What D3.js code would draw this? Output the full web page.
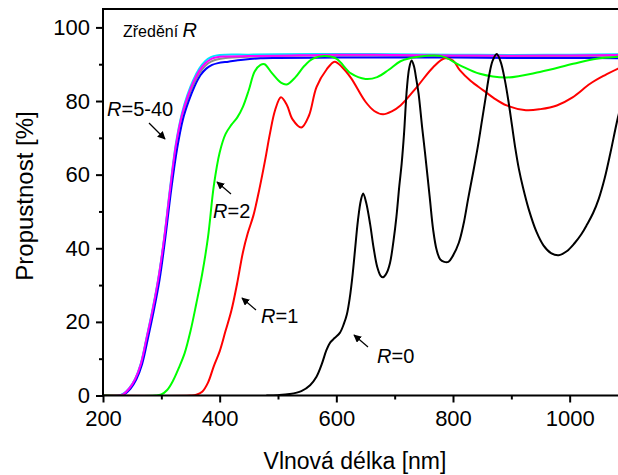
<!DOCTYPE html>
<html>
<head>
<meta charset="utf-8">
<script src="https://cdn.jsdelivr.net/npm/d3@7"></script>
<style>
  html, body { margin: 0; padding: 0; background: #fff; }
  svg { display: block; font-family: "Liberation Sans", Arial, sans-serif; }
</style>
</head>
<body>
<svg id="chart" width="618" height="475"></svg>
<script>
// ---- data (wavelength nm, transmittance %) ----
const r0 = [[480,0],[500,0.1],[520,0.4],[540,1.2],[555,2.8],[566,5.1],[575,8.5],[583,12.3],[590,14.5],[597,15.6],[606,17],[613,19.5],[618,22],[623,26.5],[628,33],[632,39.5],[637,47.5],[642,53],[646,54.9],[651,52.5],[658,46.5],[664,40],[670,35],[676,32.5],[680,32.1],[686,33.2],[692,36],[698,42],[703,48.5],[708,57],[712,63],[716,71],[721,83.5],[725,89],[729,91],[733,89.5],[737,86],[741,82],[747,73],[752,66],[760,54],[766,45],[772,39.5],[778,37],[785,36.3],[792,36.3],[800,38],[810,41.5],[818,46.5],[826,53.5],[835,61],[843,68],[850,75],[856,81],[862,87],[868,91],[875,92.8],[882,90.5],[889,85.6],[895,80],[901,73.5],[907,67],[913,61.5],[920,56.5],[930,50.5],[943,44.5],[955,40.8],[968,38.7],[981,38.1],[995,39.2],[1008,41.3],[1020,43.8],[1030,46.5],[1040,49.5],[1050,53.5],[1060,59],[1070,66],[1083,75.7],[1100,86]];
const r1 = [[200,0],[350,0],[360,0.2],[370,1],[380,3.5],[390,8],[400,12],[410,17.5],[420,23],[430,30.5],[440,39],[448,44],[458,49],[468,56],[478,64],[486,71],[495,77.5],[505,81],[515,79],[525,75],[540,72.8],[553,76],[566,83.8],[583,88.5],[597,90.7],[610,89.2],[625,86.3],[650,79.8],[665,77.3],[680,76.4],[695,77.2],[710,78.8],[738,83.8],[766,89.2],[786,91.6],[800,91],[812,88.3],[830,85.5],[852,82.9],[870,80.8],[892,78.8],[925,77.5],[950,77.8],[978,78.8],[1005,81],[1035,84.7],[1060,87],[1083,88.8],[1100,90]];
const r2 = [[200,0],[290,0],[300,0.3],[310,1.5],[320,4],[330,7.5],[340,11.5],[350,17.5],[360,25],[370,33],[380,43],[390,57],[400,66],[410,71],[420,73.5],[430,75.5],[440,78.5],[450,83],[460,88],[470,89.8],[477,90],[490,87.5],[505,85],[515,84.5],[530,86.5],[545,89.5],[560,91.5],[580,92.2],[600,91.5],[625,87.5],[650,86],[670,86.5],[690,88.5],[710,90.8],[740,92],[780,92.2],[812,89.7],[846,87.4],[892,86.4],[949,87.9],[1006,90.1],[1046,91.5],[1083,92],[1100,92.1]];
const r5to40Gray = [[200,0],[228,0],[235,0.4],[245,1.8],[255,4.3],[265,8.5],[275,15.5],[285,23],[295,31.5],[305,42.5],[315,55.5],[325,67.5],[335,75.5],[345,80.5],[355,84.5],[365,87.5],[375,89.5],[385,90.7],[395,91.3],[410,91.7],[450,92],[500,92.2],[600,92.4],[700,92.3],[800,92.2],[900,92.1],[1000,92.2],[1100,92.3]];
const r5to40Cyan = [[200,0],[228,0],[235,0.5],[245,2],[255,4.5],[265,8.8],[275,16],[285,23.5],[295,32],[305,43],[315,56.5],[325,68.5],[335,76.5],[345,81.8],[355,85.8],[365,88.8],[375,90.8],[385,91.9],[395,92.4],[410,92.6],[450,92.6],[500,92.7],[600,92.8],[700,92.7],[800,92.6],[900,92.5],[1000,92.6],[1100,92.7]];
const r5to40Blue = [[200,0],[230,0],[237,0.4],[247,1.8],[257,4.3],[267,8.5],[277,15.5],[287,23],[297,31.5],[307,43],[317,56],[327,67],[337,75],[347,80],[357,84],[367,87],[377,88.8],[387,89.8],[397,90.3],[415,90.7],[440,91.2],[470,91.6],[500,91.7],[600,91.8],[700,91.8],[800,91.8],[900,91.7],[1000,91.7],[1100,91.6]];
const r5to40Magenta = [[200,0],[228,0],[235,0.4],[245,1.9],[255,4.4],[265,8.6],[275,15.8],[285,23.2],[295,31.8],[305,42.8],[315,56],[325,68],[335,76],[345,81.2],[355,85.2],[365,88.2],[375,90.2],[385,91.4],[395,91.9],[410,92.1],[450,92.2],[500,92.3],[600,92.6],[700,92.5],[800,92.4],[900,92.3],[1000,92.4],[1100,92.5]];

const xTicks = [200, 400, 600, 800, 1000];
const xMinorTicks = [300, 500, 700, 900];
const yTicks = [0, 20, 40, 60, 80, 100];
const yMinorTicks = [10, 30, 50, 70, 90];

const seriesList = [
  { data: r5to40Gray, color: "#8c8c8c" },
  { data: r5to40Cyan, color: "#00e5ff" },
  { data: r5to40Blue, color: "#0000ff" },
  { data: r5to40Magenta, color: "#ff00ff" },
  { data: r1, color: "#ff0000" },
  { data: r2, color: "#00ff00" },
  { data: r0, color: "#000000" }
];

const annotations = [
  { label: "=5-40", tx: 107, ty: 116, x1: 149, y1: 123, x2: 165, y2: 139 },
  { label: "=2", tx: 213, ty: 218, x1: 231, y1: 194, x2: 217, y2: 182 },
  { label: "=1", tx: 261, ty: 323, x1: 256, y1: 310, x2: 242, y2: 298 },
  { label: "=0", tx: 377, ty: 363, x1: 368, y1: 347, x2: 354, y2: 335 }
];

// ---- layout ----
const svg = d3.select("#chart");
const mLeft = 103, mTop = 9, mBottom = 395.5;
const x = d3.scaleLinear().domain([200, 1100]).range([mLeft, mLeft + 900 * 0.58333]);
const y = d3.scaleLinear().domain([0, 105]).range([mBottom, mTop]);

const defs = svg.append("defs");
defs.append("clipPath").attr("id", "clip")
  .append("rect").attr("x", mLeft).attr("y", mTop).attr("width", 618 - mLeft).attr("height", mBottom - mTop);
defs.append("marker").attr("id", "arrow")
  .attr("viewBox", "0 0 10 10").attr("refX", 9).attr("refY", 5)
  .attr("markerWidth", 8).attr("markerHeight", 8).attr("markerUnits", "userSpaceOnUse")
  .attr("orient", "auto")
  .append("path").attr("d", "M0,0 L10,5 L0,10 z").attr("fill", "#000");

// lines
const line = d3.line().x(d => x(d[0])).y(d => y(Math.max(0, d[1]))).curve(d3.curveCatmullRom.alpha(0.5));
const g = svg.append("g").attr("clip-path", "url(#clip)");
seriesList.forEach(s => {
  g.append("path").datum(s.data)
    .attr("d", line).attr("fill", "none")
    .attr("stroke", s.color).attr("stroke-width", 2)
    .attr("stroke-linejoin", "round");
});

// axes
const fontSize = 22;
const xAxis = svg.append("g").attr("transform", `translate(0,${mBottom})`)
  .call(d3.axisBottom(x).tickValues(xTicks).tickFormat(d3.format("d")).tickSize(7).tickPadding(8).tickSizeOuter(0));
const xMinor = svg.append("g").attr("transform", `translate(0,${mBottom})`)
  .call(d3.axisBottom(x).tickValues(xMinorTicks).tickSize(4).tickFormat("").tickSizeOuter(0));
const yAxis = svg.append("g").attr("transform", `translate(${mLeft},0)`)
  .call(d3.axisLeft(y).tickValues(yTicks).tickFormat(d3.format("d")).tickSize(7).tickPadding(6).tickSizeOuter(0));
const yMinor = svg.append("g").attr("transform", `translate(${mLeft},0)`)
  .call(d3.axisLeft(y).tickValues(yMinorTicks).tickSize(4).tickFormat("").tickSizeOuter(0));

[xAxis, xMinor, yAxis, yMinor].forEach(a => {
  a.select(".domain").remove();
  a.selectAll(".tick line").attr("stroke", "#000").attr("stroke-width", 2);
  a.selectAll(".tick text").attr("font-size", fontSize).attr("fill", "#000")
    .attr("font-family", '"Liberation Sans", Arial, sans-serif');
});

// frame (left, top, bottom)
svg.append("path")
  .attr("d", `M618,${mTop} L${mLeft},${mTop} L${mLeft},${mBottom} L618,${mBottom}`)
  .attr("fill", "none").attr("stroke", "#000").attr("stroke-width", 2);

// axis titles
svg.append("text").attr("x", 355).attr("y", 469).attr("text-anchor", "middle")
  .attr("font-size", 23).text("Vlnová délka [nm]");
svg.append("text").attr("transform", "translate(33,196) rotate(-90)")
  .attr("text-anchor", "middle").attr("font-size", 24).text("Propustnost [%]");

// title inside plot
const t = svg.append("text").attr("x", 123).attr("y", 37);
t.append("tspan").attr("font-size", 16).text("Zředění ");
t.append("tspan").attr("font-size", 20).attr("font-style", "italic").text("R");

// annotations
annotations.forEach(a => {
  const tx = svg.append("text").attr("x", a.tx).attr("y", a.ty).attr("font-size", 20);
  tx.append("tspan").attr("font-style", "italic").text("R");
  tx.append("tspan").text(a.label);
  svg.append("line").attr("x1", a.x1).attr("y1", a.y1).attr("x2", a.x2).attr("y2", a.y2)
    .attr("stroke", "#000").attr("stroke-width", 1.2).attr("marker-end", "url(#arrow)");
});
</script>
</body>
</html>
